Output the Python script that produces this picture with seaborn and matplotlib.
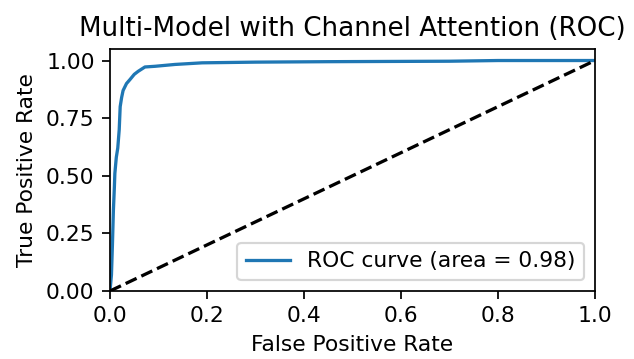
import matplotlib
matplotlib.use("Agg")
import matplotlib.pyplot as plt
import seaborn as sns
import pandas as pd

fpr = [0, 0.003, 0.005, 0.007, 0.009, 0.010, 0.013, 0.016, 0.019, 0.021, 0.024, 0.027,
       0.034, 0.041, 0.050, 0.058, 0.072, 0.093, 0.134, 0.19, 0.30, 0.45, 0.70, 0.80, 1.0]
tpr = [0, 0.07, 0.20, 0.35, 0.45, 0.51, 0.58, 0.62, 0.70, 0.80, 0.84, 0.87,
       0.90, 0.917, 0.94, 0.953, 0.972, 0.975, 0.983, 0.99, 0.993, 0.995, 0.997, 1.0, 1.0]
diag = [0, 1]
roc_auc = 0.98
yticks = [0.0, 0.25, 0.5, 0.75, 1.0]
xticks = [0.0, 0.2, 0.4, 0.6, 0.8, 1.0]

DPI = 157
plt.rcParams['font.family'] = ['DejaVu Sans']
fig = plt.figure(figsize=(634 / DPI, 359 / DPI), dpi=DPI)
ax = fig.add_axes([110 / 634, 68 / 359, 485 / 634, 242 / 359])

df = pd.DataFrame({"fpr": fpr, "tpr": tpr})
sns.lineplot(data=df, x="fpr", y="tpr", sort=False, estimator=None, ax=ax,
             color="#1f77b4", lw=1.5, label=f"ROC curve (area = {roc_auc:.2f})")
sns.lineplot(x=diag, y=diag, ax=ax, color="black", lw=1.5, linestyle="--", estimator=None)

ax.set_xlim(0.0, 1.0)
ax.set_ylim(0.0, 1.05)
ax.set_xticks(xticks)
ax.set_yticks(yticks)
ax.set_xlabel("False Positive Rate")
ax.set_ylabel("True Positive Rate")
ax.set_title("Multi-Model with Channel Attention (ROC)")
ax.legend(loc="lower right")

fig.savefig("out.png", dpi=DPI)
